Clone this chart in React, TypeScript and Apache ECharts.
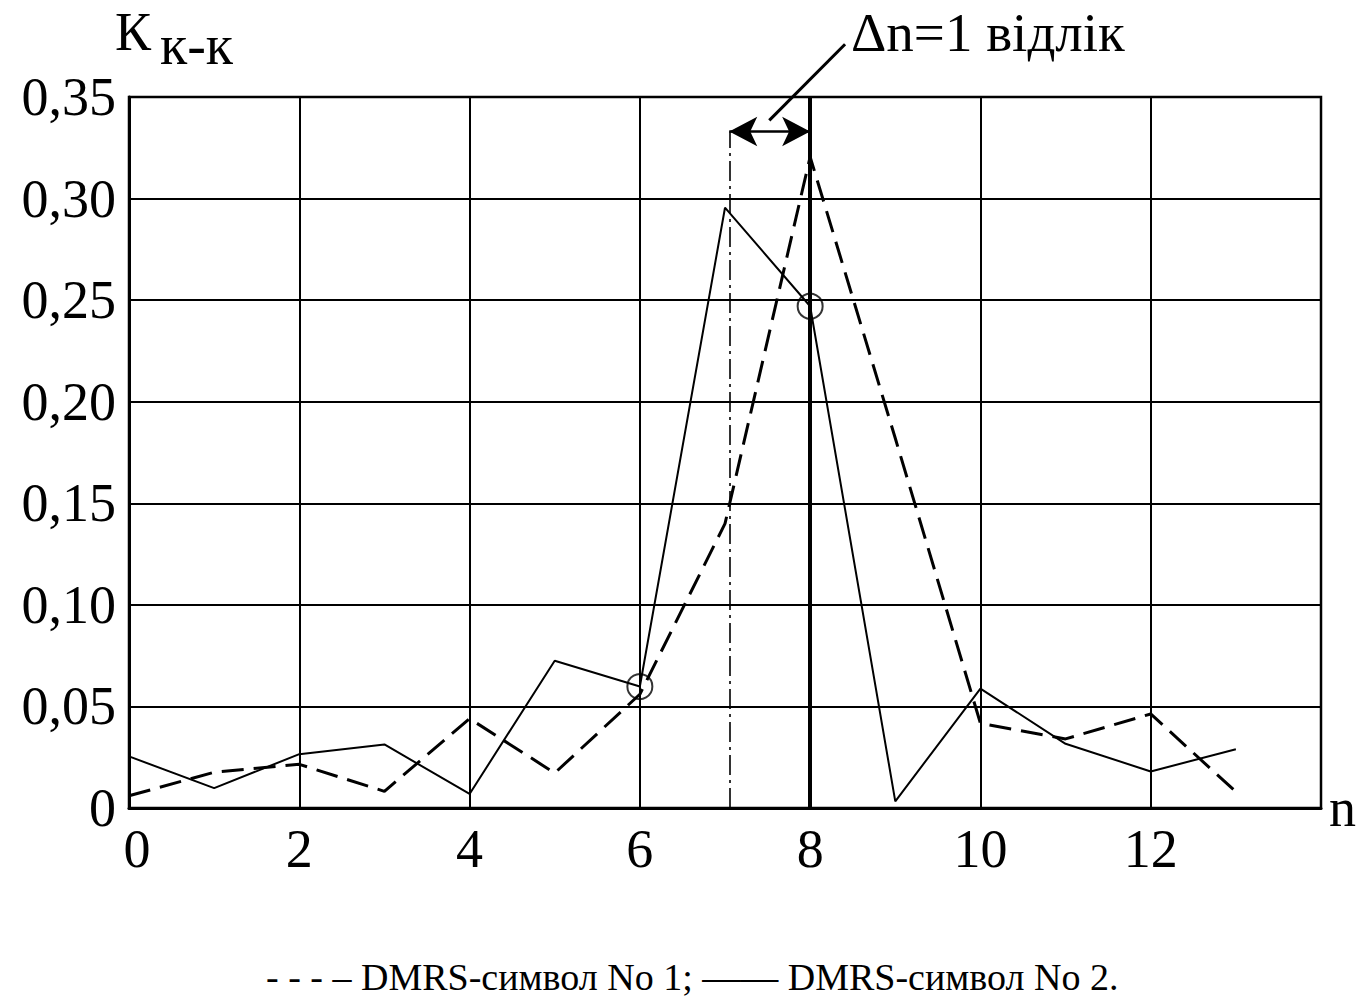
import React, { useEffect, useRef } from "react";
import * as echarts from "echarts";

const N_VALUES = [0, 1, 2, 3, 4, 5, 6, 7, 8, 9, 10, 11, 12, 13];
const DMRS_1 = [0.006, 0.0176, 0.0215, 0.0082, 0.044, 0.0172, 0.056, 0.14, 0.3205, 0.182, 0.0417, 0.034, 0.0463, 0.008];
const DMRS_2 = [0.0254, 0.0098, 0.0265, 0.0313, 0.0069, 0.0725, 0.0598, 0.2955, 0.247, 0.0033, 0.0588, 0.0316, 0.018, 0.0289];
const CIRCLE_N = [6, 8];
const CIRCLE_K = [0.0598, 0.247];
const Y_TICKS = [0, 0.05, 0.1, 0.15, 0.2, 0.25, 0.3, 0.35];
const X_TICKS = [0, 2, 4, 6, 8, 10, 12];
const SHIFT_FROM = 7.05;
const SHIFT_TO = 8;
const SHIFT_Y = 0.333;
const LEADER_FROM = [7.52, 0.3385];
const LEADER_TO = [8.41, 0.376];

const FONT = "Liberation Serif";

const titleText = (text: string, left: number, top: number, size: number) => ({
  text,
  left,
  top,
  padding: 0,
  itemGap: 0,
  textStyle: { fontFamily: FONT, fontSize: size, fontWeight: "normal", color: "#000" },
});

export default function App() {
  const ref = useRef<HTMLDivElement>(null);
  useEffect(() => {
    if (!ref.current) return;
    const chart = echarts.init(ref.current, undefined, { renderer: "svg" });
    const option: any = {
      animation: false,
      backgroundColor: "#ffffff",
      textStyle: { fontFamily: FONT },
      title: [
        titleText("К", 115, 5, 54),
        titleText("к-к", 160, 17, 56),
        titleText("Δn=1 відлік", 851, 5, 55),
        titleText("- - - – DMRS-символ No 1; —— DMRS-символ No 2.", 266, 958, 38),
      ],
      grid: {
        left: 129,
        right: 41,
        top: 97,
        bottom: 190,
        show: true,
        borderColor: "#000",
        borderWidth: 2.5,
        backgroundColor: "transparent",
      },
      xAxis: {
        type: "value",
        min: 0,
        max: 14,
        interval: 2,
        name: "n",
        nameLocation: "end",
        nameGap: 8,
        nameTextStyle: { fontFamily: FONT, fontSize: 54, color: "#000", verticalAlign: "middle", padding: [0, 0, 6, 0] },
        axisLine: { show: true, onZero: false, lineStyle: { color: "#000", width: 3 } },
        axisTick: { show: false },
        splitLine: { show: true, lineStyle: { color: "#000", width: 2 } },
        axisLabel: {
          margin: 14,
          fontFamily: FONT,
          fontSize: 54,
          color: "#000",
          formatter: (v: number) => (X_TICKS.includes(v) ? (v === 0 ? "{z|0}" : String(v)) : ""),
          rich: { z: { fontFamily: FONT, fontSize: 54, color: "#000", padding: [0, 0, 0, 16] } },
        },
      },
      yAxis: {
        type: "value",
        min: 0,
        max: 0.35,
        interval: 0.05,
        axisLine: { show: true, lineStyle: { color: "#000", width: 3 } },
        axisTick: { show: false },
        splitLine: { show: true, lineStyle: { color: "#000", width: 2 } },
        axisLabel: {
          margin: 13,
          fontFamily: FONT,
          fontSize: 54,
          color: "#000",
          formatter: (v: number) => {
            const t = Y_TICKS.find((x) => Math.abs(x - v) < 1e-9);
            if (t === undefined) return "";
            return t === 0 ? "0" : t.toFixed(2).replace(".", ",");
          },
        },
      },
      series: [
        {
          name: "DMRS-символ No 1",
          type: "line",
          data: N_VALUES.map((n, i) => [n, DMRS_1[i]]),
          showSymbol: false,
          symbol: "none",
          lineStyle: { color: "#000", width: 3, type: [22, 10] },
        },
        {
          name: "DMRS-символ No 2",
          type: "line",
          data: N_VALUES.map((n, i) => [n, DMRS_2[i]]),
          showSymbol: false,
          symbol: "none",
          lineStyle: { color: "#000", width: 2 },
        },
        {
          type: "scatter",
          data: CIRCLE_N.map((n, i) => [n, CIRCLE_K[i]]),
          symbol: "circle",
          symbolSize: 25,
          itemStyle: { color: "transparent", borderColor: "#000", borderWidth: 2 },
        },
        {
          type: "line",
          data: [],
          markLine: {
            silent: true,
            symbol: ["none", "none"],
            label: { show: false },
            data: [
              [
                { coord: [SHIFT_TO, 0], lineStyle: { color: "#000", width: 4, type: "solid" } },
                { coord: [SHIFT_TO, 0.35] },
              ],
              [
                { coord: [SHIFT_FROM, 0], lineStyle: { color: "#000", width: 1.6, type: [20, 5, 3, 5] } },
                { coord: [SHIFT_FROM, SHIFT_Y] },
              ],
            ],
          },
        },
        {
          type: "line",
          data: [],
          markLine: {
            silent: true,
            symbol: ["arrow", "arrow"],
            symbolSize: [22, 28],
            label: { show: false },
            lineStyle: { color: "#000", width: 2.5, type: "solid" },
            itemStyle: { color: "#000" },
            data: [[{ coord: [SHIFT_FROM, SHIFT_Y] }, { coord: [SHIFT_TO, SHIFT_Y] }]],
          },
        },
      ],
    };
    chart.setOption(option);
    const p1 = chart.convertToPixel({ gridIndex: 0 }, LEADER_FROM) as number[];
    const p2 = chart.convertToPixel({ gridIndex: 0 }, LEADER_TO) as number[];
    chart.setOption({
      graphic: [
        {
          type: "line",
          shape: { x1: p1[0], y1: p1[1], x2: p2[0], y2: p2[1] },
          style: { stroke: "#000", lineWidth: 3 },
        },
      ],
    });
    return () => chart.dispose();
  }, []);
  return (
    <div
      ref={ref}
      style={{ position: "fixed", left: 0, top: 0, width: 1362, height: 998, background: "#fff" }}
    />
  );
}
